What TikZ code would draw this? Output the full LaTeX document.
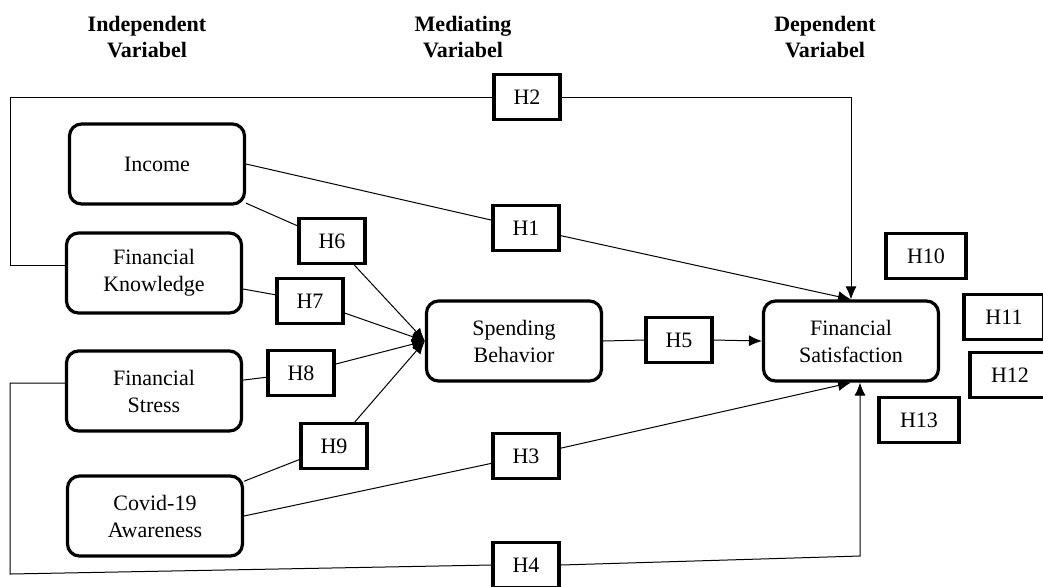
\documentclass[tikz,border=0pt]{standalone}
\usepackage{fontspec}
\setmainfont{Liberation Serif}
\usetikzlibrary{arrows.meta}

\begin{document}
\begin{tikzpicture}[x=0.5pt,y=-0.5pt,
        font=\fontsize{11}{13.5}\selectfont,
        >={Latex[length=6.5pt,width=5.5pt]},
        every path/.style={line width=.5pt},
        var/.style={draw,line width=1.6pt,rounded corners=6pt,align=center,
        minimum width=87.5pt,minimum height=40pt},
        hyp/.style={draw,line width=1.6pt,minimum width=33pt,minimum height=22.5pt},
        head/.style={font=\fontsize{11}{13}\selectfont\bfseries,align=center}]
        \useasboundingbox (0,0) rectangle (1043,586);

        \node[head] (hInd) at (147,37) {Independent\\Variabel};
        \node[head] (hMed) at (463,37) {Mediating\\Variabel};
        \node[head] (hDep) at (825,37) {Dependent\\Variabel};

        \node[var] (inc) at (157,164) {Income};
        \node[var] (fk) at (154,273) {Financial\\Knowledge};
        \node[var] (fst) at (154,391) {Financial\\Stress};
        \node[var] (cov) at (155,516) {Covid-19\\Awareness};
        \node[var] (sb) at (514,341) {Spending\\Behavior};
        \node[var] (fsat) at (851,341) {Financial\\Satisfaction};

        \foreach \name/\x/\y in {1/526/228, 2/527/97, 3/526/456, 4/526/565,
            5/679/340, 6/332/241, 7/310/301, 8/301/373, 9/334/446}{
            \node[hyp] (h\name) at (\x,\y) {H\name};
        }
        \foreach \name/\x/\y in {10/926/256, 11/1004/317, 12/1010/375, 13/919/420}{
            \node[hyp,minimum width=40pt] (h\name) at (\x,\y) {H\name};
        }

        % direct paths
        \draw (inc.east) -- (h1);
        \draw[->] (h1) -- (fsat.north);
        \draw (fk.175) -| (10,97) -- (h2.west);
        \draw[->] (h2.east) -| (fsat.north);
        \draw (cov.east) -- (h3);
        \draw[->] (h3) -- (fsat.south);
        \coordinate (c4) at (860,556);
        \draw (fst.175) -| (10,574) -- (h4.west);
        \draw[->] (h4.east) -- (c4) -- (fsat.south -| c4);
        \draw (sb.east) -- (h5.west);
        \draw[->] (h5.east) -- (fsat.west);

        % mediated paths
        \foreach \src/\h in {inc/6, fk/7, fst/8, cov/9}{
            \draw (\src) -- (h\h);
            \draw[->] (h\h) -- (sb.west);
        }
    \end{tikzpicture}
\end{document}
